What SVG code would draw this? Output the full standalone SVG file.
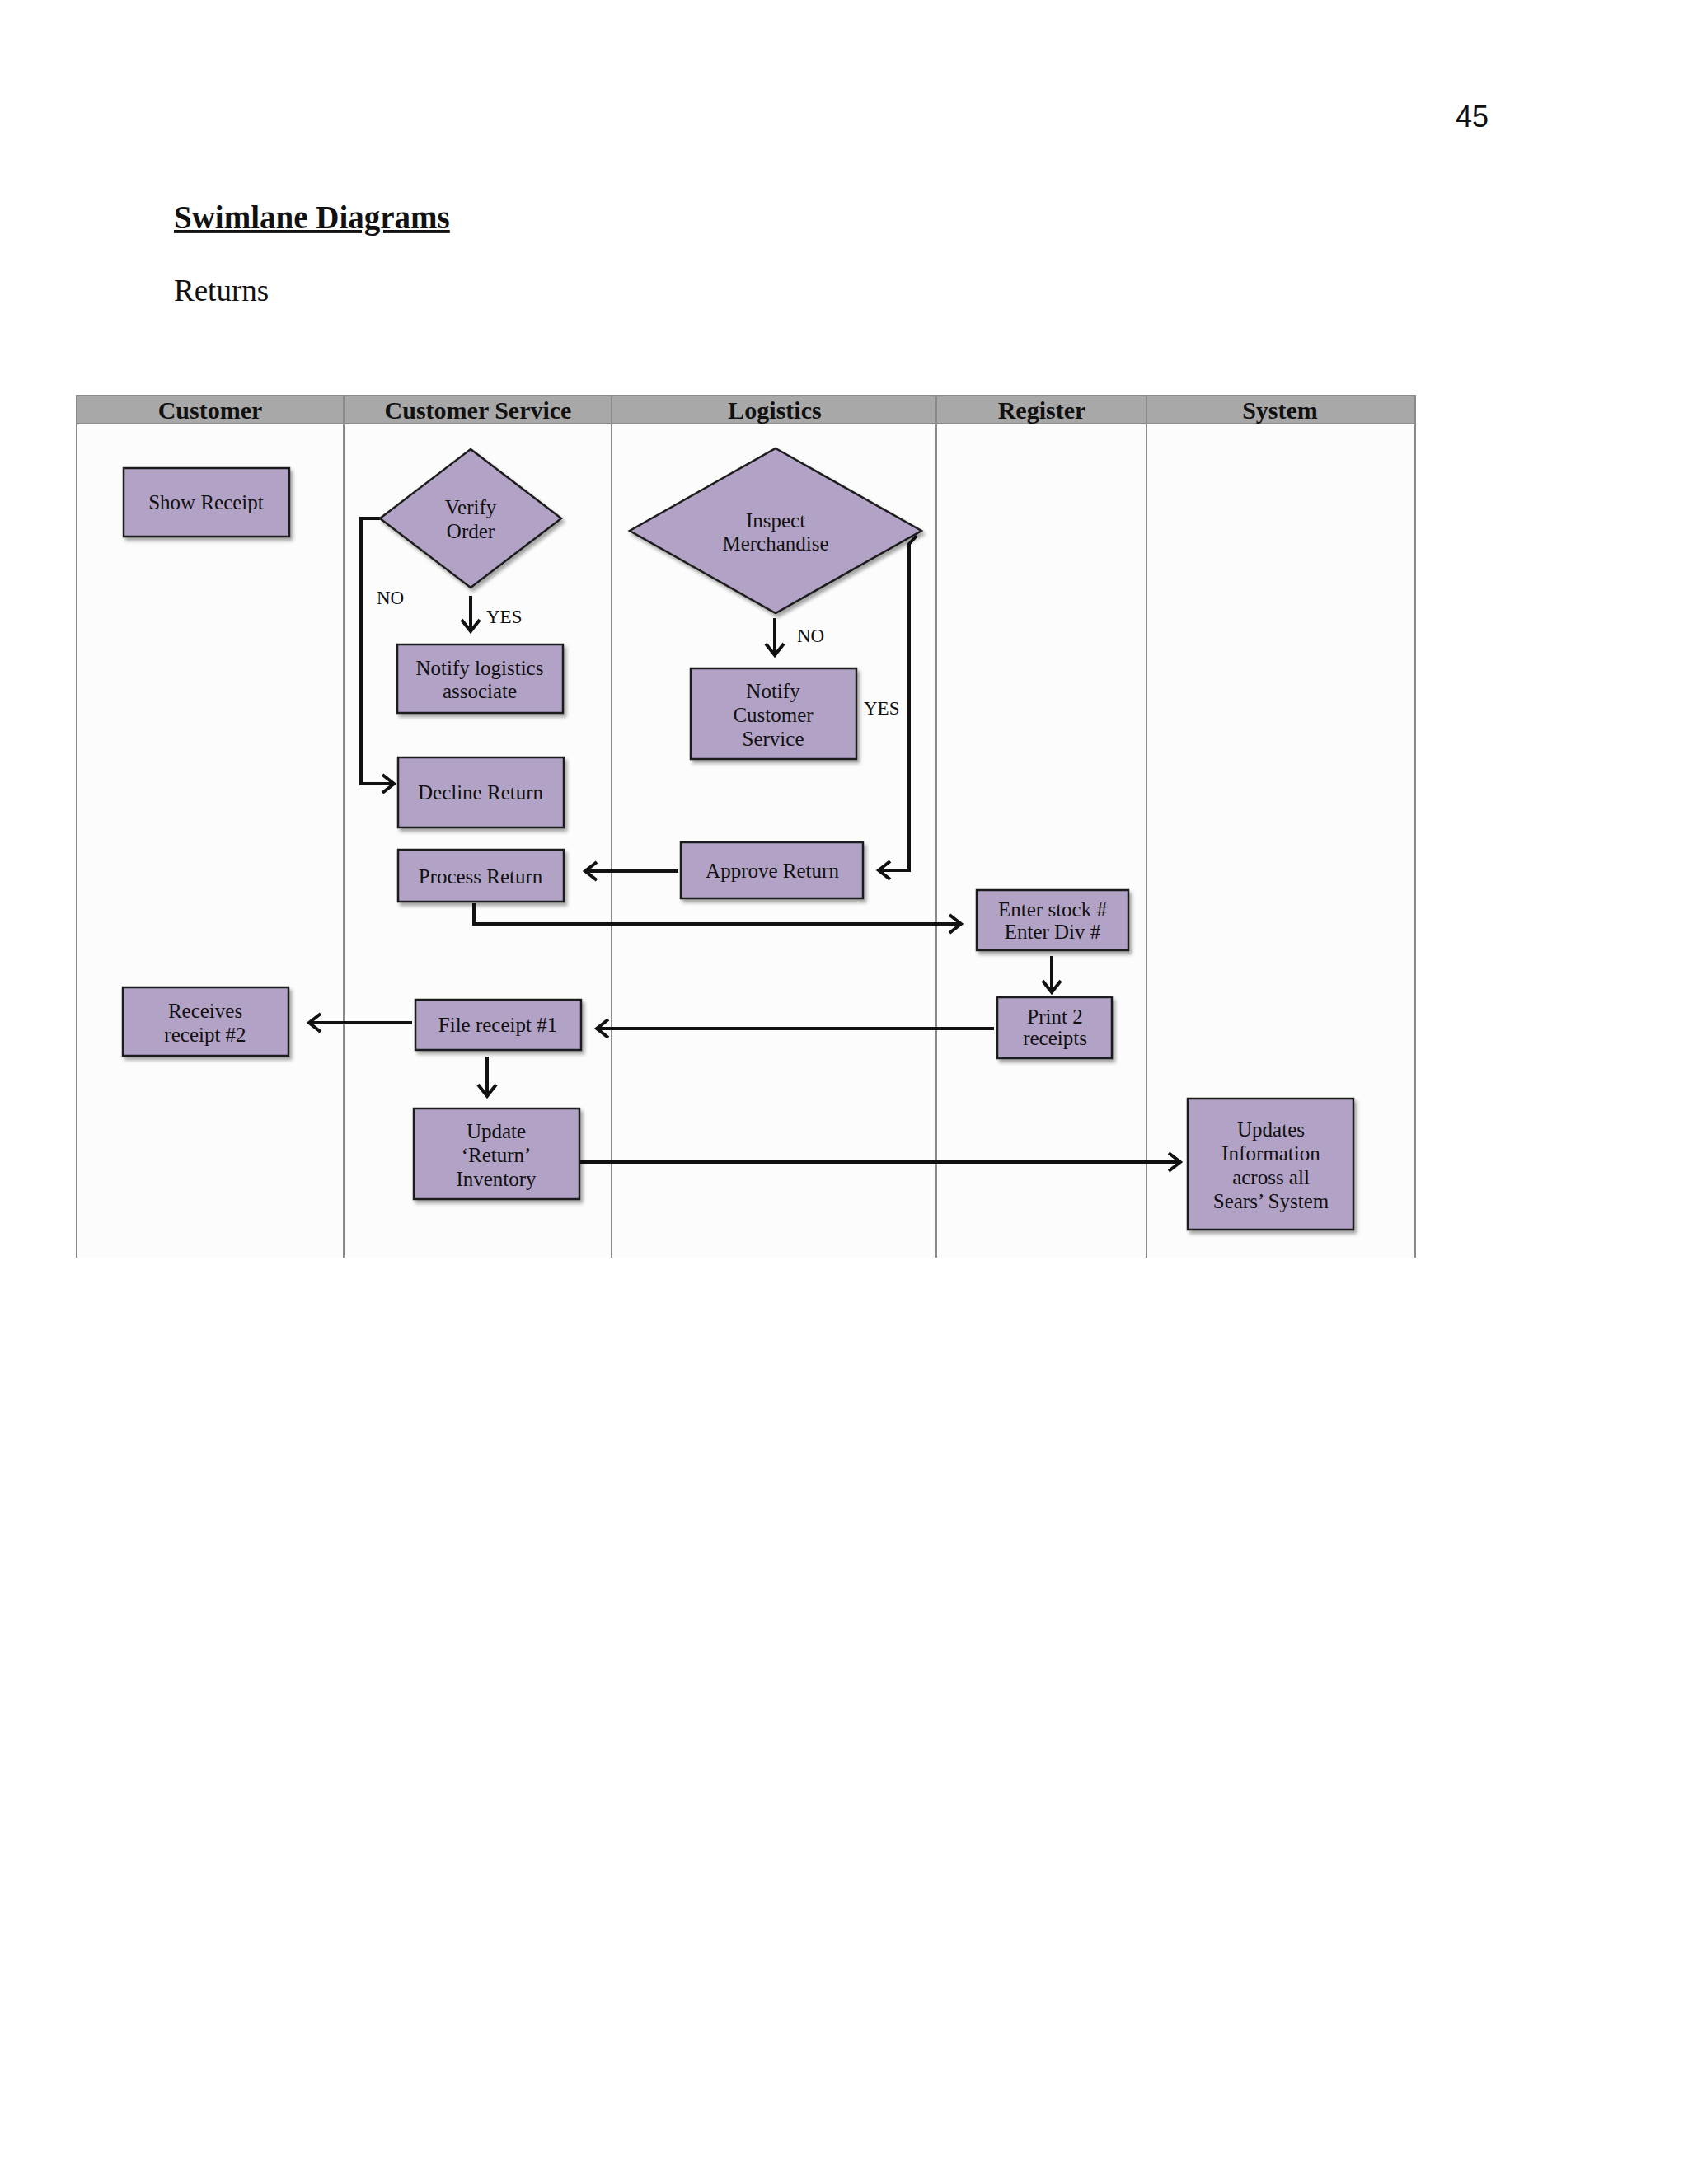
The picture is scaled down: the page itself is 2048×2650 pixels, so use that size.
<svg xmlns="http://www.w3.org/2000/svg" width="2048" height="2650" viewBox="0 0 2048 2650">
<style>
.node{fill:#b1a2c6;stroke:#1e1e1e;stroke-width:2.5}
.t{font-family:"Liberation Serif","DejaVu Serif",serif;font-size:25px;fill:#111;text-anchor:middle}
.h{font-family:"Liberation Serif","DejaVu Serif",serif;font-size:30px;font-weight:bold;fill:#111;text-anchor:middle}
.lbl{font-family:"Liberation Serif","DejaVu Serif",serif;font-size:23px;fill:#111}
.c{fill:none;stroke:#111;stroke-width:4}
.lane{stroke:#8a8a8a;stroke-width:2}
</style>
<defs>
<marker id="a" markerWidth="10" markerHeight="10" refX="8" refY="5" orient="auto" markerUnits="userSpaceOnUse" viewBox="0 0 10 10" overflow="visible">
<path d="M-6 -6 L8 5 L-6 16" fill="none" stroke="#111" stroke-width="4" transform="translate(0,0) scale(1)"/>
</marker>
<filter id="sh" x="-10%" y="-10%" width="130%" height="130%"><feDropShadow dx="3" dy="4" stdDeviation="2" flood-color="#000" flood-opacity="0.35"/></filter>
</defs>
<rect width="2048" height="2650" fill="#fff"/>
<text x="1786" y="154" font-family="Liberation Sans,Arial,sans-serif" font-size="36" fill="#111" text-anchor="middle">45</text>
<text x="211" y="277" font-family="Liberation Serif,serif" font-size="39" font-weight="bold" fill="#111" text-decoration="underline">Swimlane Diagrams</text>
<text x="211" y="365" font-family="Liberation Serif,serif" font-size="37" fill="#111">Returns</text>
<g id="lanes">
<rect x="93" y="480" width="1624" height="1046" fill="#fcfcfd"/>
<rect x="93" y="480" width="1624" height="34" fill="#a8a8a8" stroke="#8a8a8a" stroke-width="2"/>
<line class="lane" x1="93" y1="480" x2="93" y2="1526"/>
<line class="lane" x1="417" y1="480" x2="417" y2="1526"/>
<line class="lane" x1="742" y1="480" x2="742" y2="1526"/>
<line class="lane" x1="1136" y1="480" x2="1136" y2="1526"/>
<line class="lane" x1="1391" y1="480" x2="1391" y2="1526"/>
<line class="lane" x1="1717" y1="480" x2="1717" y2="1526"/>
<text class="h" x="255" y="508">Customer</text>
<text class="h" x="580" y="508">Customer Service</text>
<text class="h" x="940" y="508">Logistics</text>
<text class="h" x="1264" y="508">Register</text>
<text class="h" x="1553" y="508">System</text>
</g>
<g id="connectors">
<path class="c" d="M461 629 H438 V951 H478" marker-end="url(#a)"/>
<path class="c" d="M571 723 V766" marker-end="url(#a)"/>
<path class="c" d="M940 750 V795" marker-end="url(#a)"/>
<path class="c" d="M1112 650 L1103 660 V1056 H1066" marker-end="url(#a)"/>
<path class="c" d="M823 1057 H710" marker-end="url(#a)"/>
<path class="c" d="M575 1096 V1121 H1166" marker-end="url(#a)"/>
<path class="c" d="M1276 1160 V1204" marker-end="url(#a)"/>
<path class="c" d="M1206 1248 H724" marker-end="url(#a)"/>
<path class="c" d="M500 1241 H375" marker-end="url(#a)"/>
<path class="c" d="M591 1282 V1330" marker-end="url(#a)"/>
<path class="c" d="M703 1410 H1432" marker-end="url(#a)"/>
<text class="lbl" x="457" y="733">NO</text>
<text class="lbl" x="590" y="756">YES</text>
<text class="lbl" x="967" y="779">NO</text>
<text class="lbl" x="1048" y="867">YES</text>
</g>
<g id="show-receipt"><rect class="node" filter="url(#sh)" x="150" y="568" width="201" height="83"/><text class="t" x="250" y="618">Show Receipt</text></g>
<g id="verify-order"><polygon class="node" filter="url(#sh)" points="571,545 681,629 571,713 461,629"/><text class="t" x="571" y="624">Verify</text><text class="t" x="571" y="653">Order</text></g>
<g id="notify-logistics"><rect class="node" filter="url(#sh)" x="482" y="782" width="201" height="83"/><text class="t" x="582" y="819">Notify logistics</text><text class="t" x="582" y="847">associate</text></g>
<g id="decline-return"><rect class="node" filter="url(#sh)" x="483" y="919" width="201" height="85"/><text class="t" x="583" y="970">Decline Return</text></g>
<g id="process-return"><rect class="node" filter="url(#sh)" x="483" y="1031" width="201" height="63"/><text class="t" x="583" y="1072">Process Return</text></g>
<g id="inspect-merchandise"><polygon class="node" filter="url(#sh)" points="941,544 1118,644 941,744 764,644"/><text class="t" x="941" y="640">Inspect</text><text class="t" x="941" y="668">Merchandise</text></g>
<g id="notify-cs"><rect class="node" filter="url(#sh)" x="838" y="811" width="201" height="110"/><text class="t" x="938" y="847">Notify</text><text class="t" x="938" y="876">Customer</text><text class="t" x="938" y="905">Service</text></g>
<g id="approve-return"><rect class="node" filter="url(#sh)" x="826" y="1022" width="221" height="68"/><text class="t" x="937" y="1065">Approve Return</text></g>
<g id="enter-stock"><rect class="node" filter="url(#sh)" x="1185" y="1080" width="184" height="73"/><text class="t" x="1277" y="1112" font-size="22">Enter stock #</text><text class="t" x="1277" y="1139" font-size="22">Enter Div #</text></g>
<g id="print-receipts"><rect class="node" filter="url(#sh)" x="1210" y="1210" width="139" height="74"/><text class="t" x="1280" y="1242" font-size="22">Print 2</text><text class="t" x="1280" y="1268" font-size="22">receipts</text></g>
<g id="receives-receipt"><rect class="node" filter="url(#sh)" x="149" y="1198" width="201" height="83"/><text class="t" x="249" y="1235">Receives</text><text class="t" x="249" y="1264">receipt #2</text></g>
<g id="file-receipt"><rect class="node" filter="url(#sh)" x="504" y="1213" width="201" height="61"/><text class="t" x="604" y="1252">File receipt #1</text></g>
<g id="update-inventory"><rect class="node" filter="url(#sh)" x="502" y="1345" width="201" height="110"/><text class="t" x="602" y="1381">Update</text><text class="t" x="602" y="1410">‘Return’</text><text class="t" x="602" y="1439">Inventory</text></g>
<g id="updates-information"><rect class="node" filter="url(#sh)" x="1441" y="1333" width="201" height="159"/><text class="t" x="1542" y="1379">Updates</text><text class="t" x="1542" y="1408">Information</text><text class="t" x="1542" y="1437">across all</text><text class="t" x="1542" y="1466">Sears’ System</text></g>
</svg>
